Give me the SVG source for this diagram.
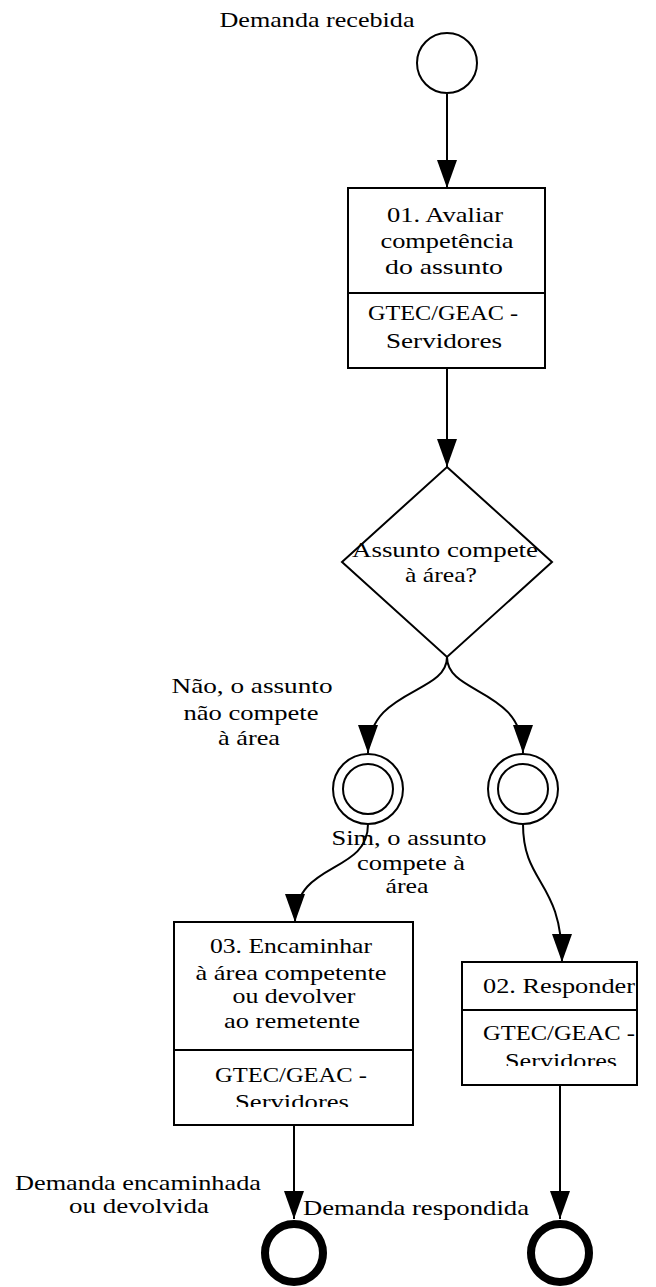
<svg xmlns="http://www.w3.org/2000/svg" width="656" height="1287" viewBox="0 0 656 1287">
<style>
text{font-family:"Liberation Serif","Times New Roman",serif;font-size:21px;fill:#000;text-anchor:middle;}
.n{fill:#fff;stroke:#000;stroke-width:2;}
.e{fill:none;stroke:#000;stroke-width:2;}
.end{fill:#fff;stroke:#000;stroke-width:8;}
</style>
<defs>
<marker id="ah" markerUnits="userSpaceOnUse" markerWidth="28" markerHeight="20" refX="28" refY="10" orient="auto"><path d="M0,0 L28,10 L0,20 z" fill="#000"/></marker>
<clipPath id="c3"><rect x="174" y="1050" width="240" height="57"/></clipPath>
<clipPath id="c2"><rect x="462" y="1010" width="176" height="56"/></clipPath>
</defs>
<g id="connectors">
<path class="e" d="M447,94 L447,188" marker-end="url(#ah)"/>
<path class="e" d="M447,368 L447,467" marker-end="url(#ah)"/>
<path class="e" d="M447,657 C447,695 368,688 368,753" marker-end="url(#ah)"/>
<path class="e" d="M447,657 C447,695 523,688 523,753" marker-end="url(#ah)"/>
<path class="e" d="M368,824 C368,875 295,860 295,922" marker-end="url(#ah)"/>
<path class="e" d="M523,824 C523,885 562,880 562,962" marker-end="url(#ah)"/>
<path class="e" d="M294,1125 L294,1219" marker-end="url(#ah)"/>
<path class="e" d="M560,1085 L560,1219" marker-end="url(#ah)"/>
</g>
<g id="start">
<circle class="n" cx="447" cy="63" r="30"/>
<text x="317" y="27" textLength="195" lengthAdjust="spacingAndGlyphs">Demanda recebida</text>
</g>
<g id="task01">
<rect class="n" x="348" y="188" width="197" height="180"/>
<line class="e" x1="348" y1="293" x2="545" y2="293"/>
<text x="445" y="222" textLength="116" lengthAdjust="spacingAndGlyphs">01. Avaliar</text>
<text x="447" y="248" textLength="133" lengthAdjust="spacingAndGlyphs">competência</text>
<text x="444" y="274" textLength="118" lengthAdjust="spacingAndGlyphs">do assunto</text>
<text x="443" y="320" textLength="150" lengthAdjust="spacingAndGlyphs">GTEC/GEAC -</text>
<text x="444" y="348" textLength="116" lengthAdjust="spacingAndGlyphs">Servidores</text>
</g>
<g id="gateway">
<path class="n" d="M447,467 L552,562 L447,657 L342,562 z"/>
<text x="445" y="557" textLength="186" lengthAdjust="spacingAndGlyphs">Assunto compete</text>
<text x="441" y="582" textLength="72" lengthAdjust="spacingAndGlyphs">à área?</text>
</g>
<g id="event-nao">
<circle class="n" cx="368" cy="789" r="35"/>
<circle class="n" cx="368" cy="789" r="25"/>
<text x="252" y="693" textLength="161" lengthAdjust="spacingAndGlyphs">Não, o assunto</text>
<text x="251" y="720" textLength="135" lengthAdjust="spacingAndGlyphs">não compete</text>
<text x="249" y="745" textLength="62" lengthAdjust="spacingAndGlyphs">à área</text>
</g>
<g id="event-sim">
<circle class="n" cx="523" cy="789" r="35"/>
<circle class="n" cx="523" cy="789" r="25"/>
</g>
<g id="label-sim">
<text x="409" y="845" textLength="155" lengthAdjust="spacingAndGlyphs">Sim, o assunto</text>
<text x="411" y="870" textLength="108" lengthAdjust="spacingAndGlyphs">compete à</text>
<text x="407" y="893" textLength="43" lengthAdjust="spacingAndGlyphs">área</text>
</g>
<g id="task03">
<rect class="n" x="174" y="922" width="239" height="203"/>
<line class="e" x1="174" y1="1050" x2="413" y2="1050"/>
<text x="291" y="953" textLength="162" lengthAdjust="spacingAndGlyphs">03. Encaminhar</text>
<text x="291" y="980" textLength="191" lengthAdjust="spacingAndGlyphs">à área competente</text>
<text x="294" y="1003" textLength="123" lengthAdjust="spacingAndGlyphs">ou devolver</text>
<text x="292" y="1028" textLength="136" lengthAdjust="spacingAndGlyphs">ao remetente</text>
<text x="291" y="1082" textLength="152" lengthAdjust="spacingAndGlyphs">GTEC/GEAC -</text>
<text x="292" y="1109" textLength="114" lengthAdjust="spacingAndGlyphs" clip-path="url(#c3)">Servidores</text>
</g>
<g id="task02">
<rect class="n" x="462" y="962" width="175" height="123"/>
<line class="e" x1="462" y1="1010" x2="637" y2="1010"/>
<text x="559" y="993" textLength="152" lengthAdjust="spacingAndGlyphs">02. Responder</text>
<text x="559" y="1040" textLength="152" lengthAdjust="spacingAndGlyphs">GTEC/GEAC -</text>
<text x="561" y="1068" textLength="112" lengthAdjust="spacingAndGlyphs" clip-path="url(#c2)">Servidores</text>
</g>
<g id="end-encaminhada">
<circle class="end" cx="294" cy="1253" r="29"/>
<text x="138" y="1190" textLength="246" lengthAdjust="spacingAndGlyphs">Demanda encaminhada</text>
<text x="139" y="1213" textLength="140" lengthAdjust="spacingAndGlyphs">ou devolvida</text>
</g>
<g id="end-respondida">
<circle class="end" cx="560" cy="1253" r="29"/>
<text x="416" y="1215" textLength="226" lengthAdjust="spacingAndGlyphs">Demanda respondida</text>
</g>
</svg>
